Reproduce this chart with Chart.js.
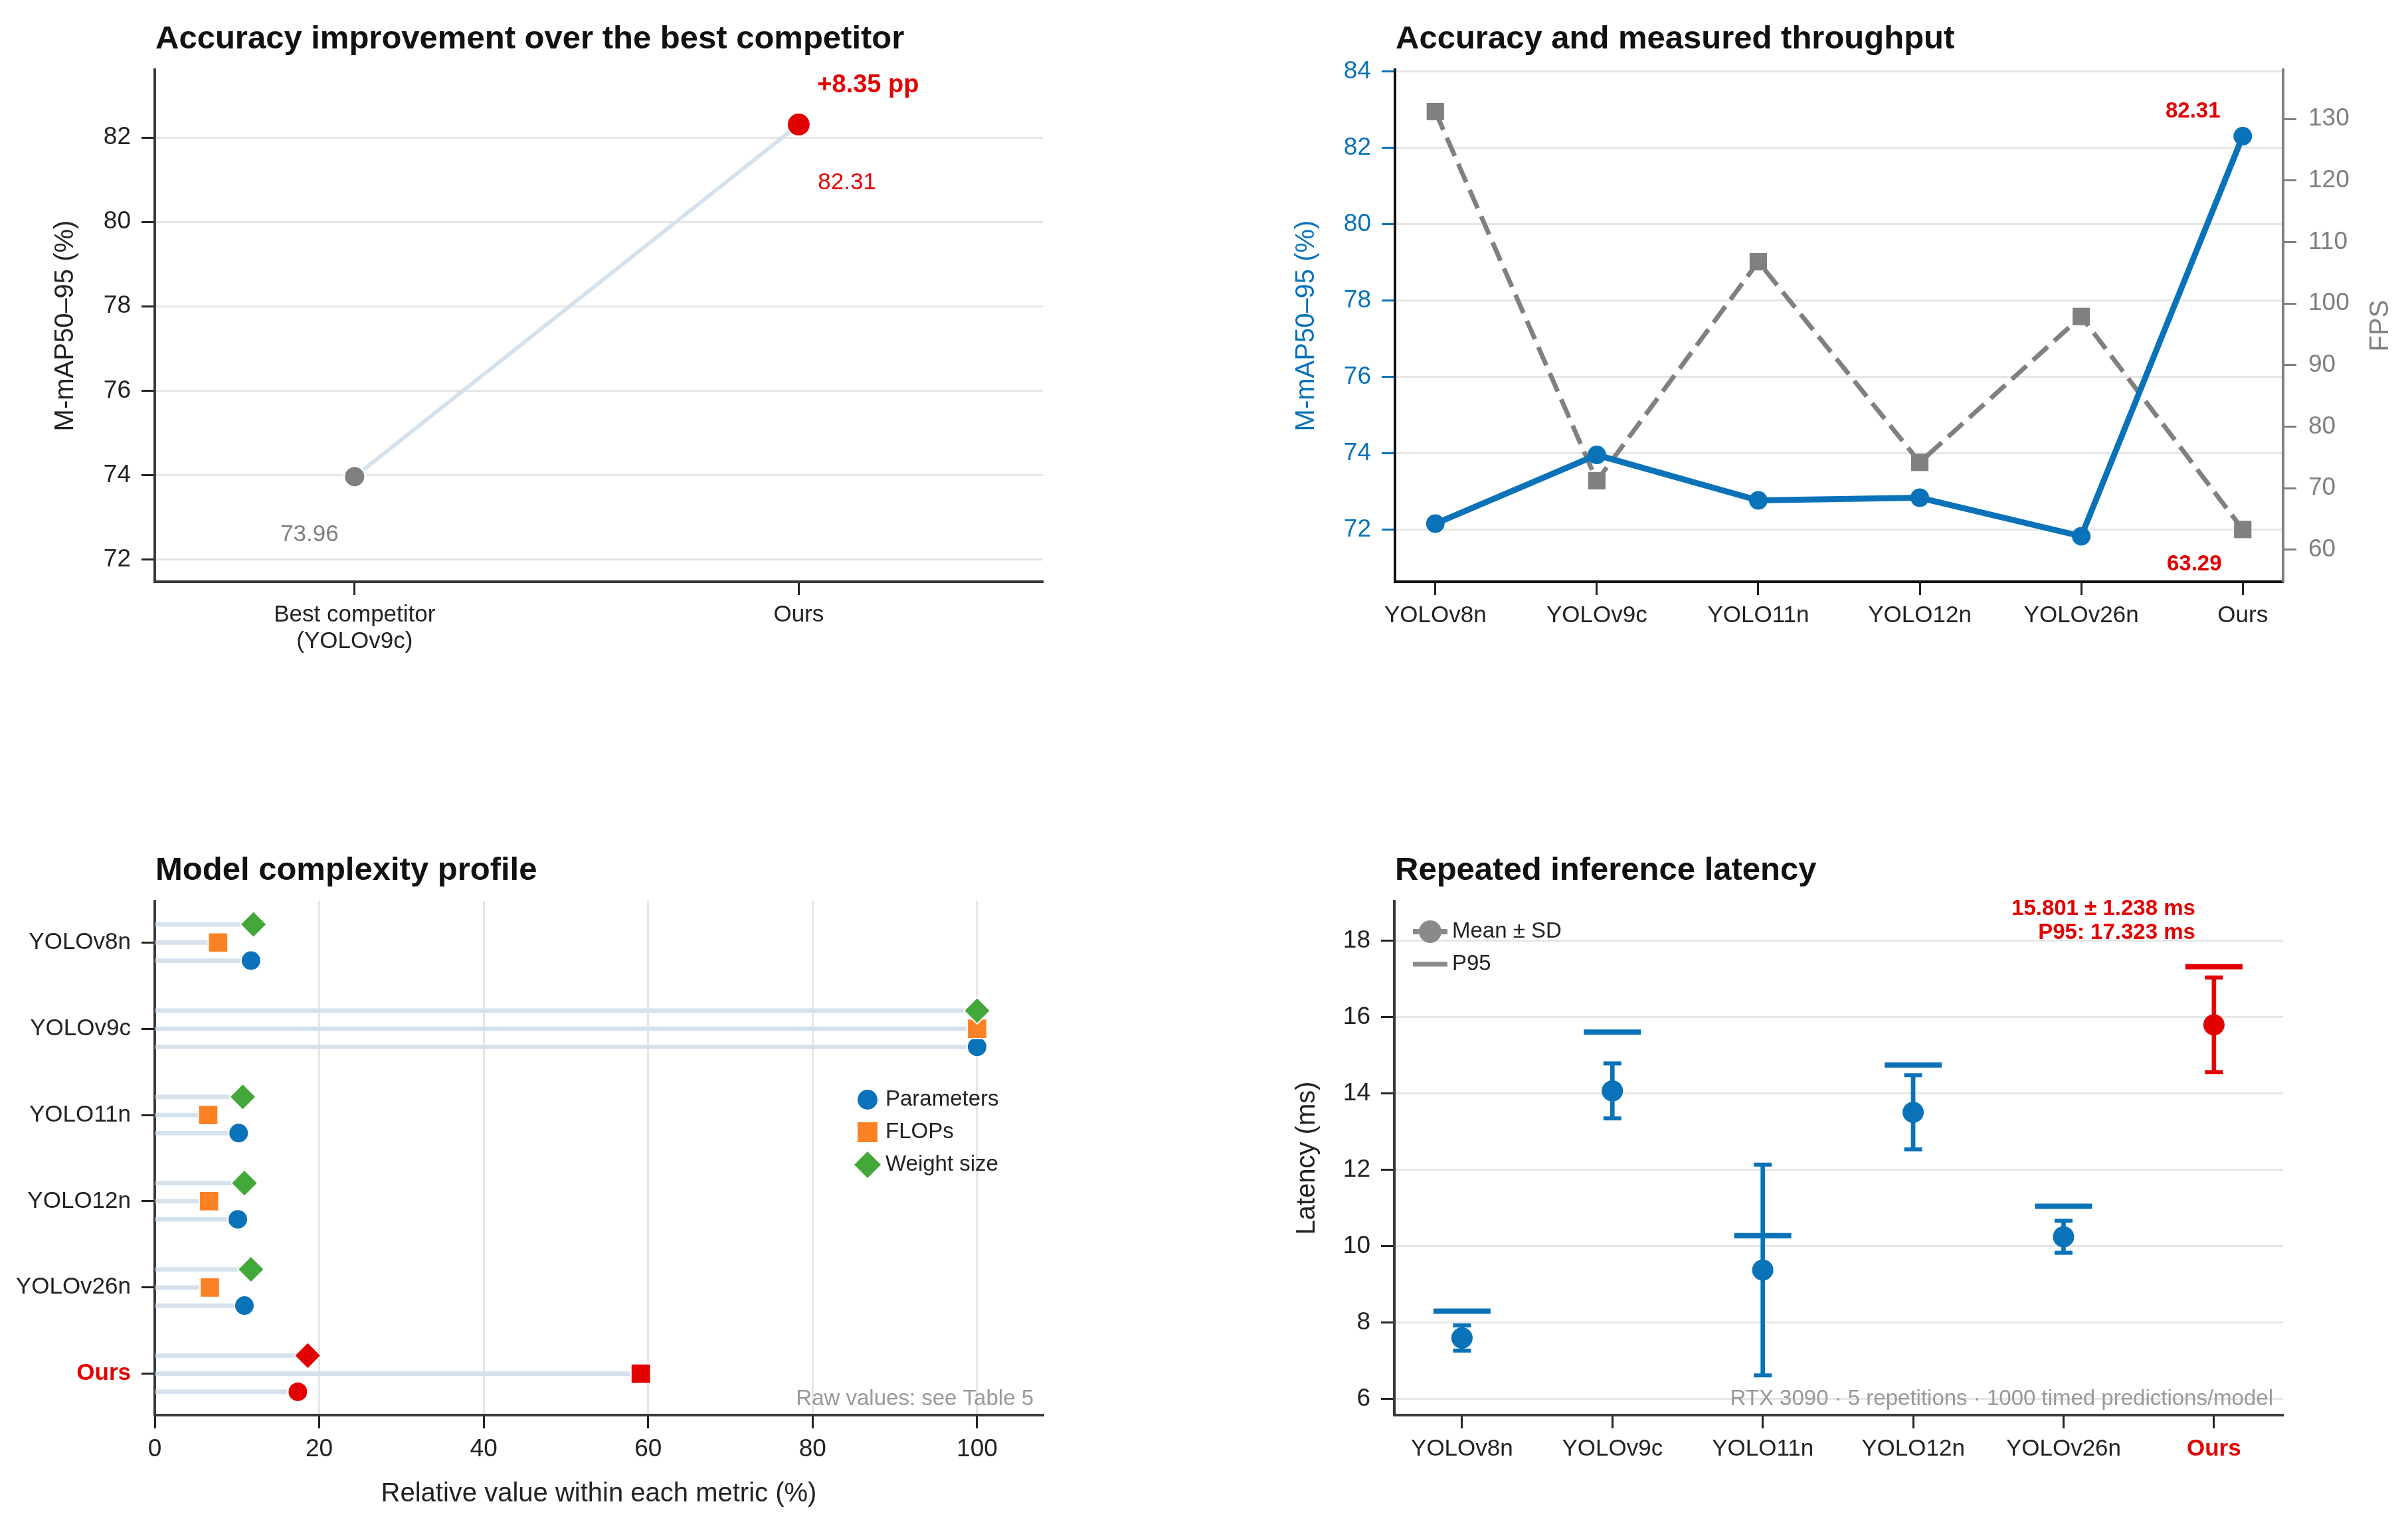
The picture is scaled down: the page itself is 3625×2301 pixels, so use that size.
<!DOCTYPE html>
<html lang="en">
<head>
<meta charset="UTF-8">
<title>Accuracy, throughput, complexity and latency</title>
<script src="https://cdn.jsdelivr.net/npm/chart.js"></script>
<style>
  html, body { margin: 0; padding: 0; background: #ffffff; }
  body { width: 3625px; height: 2301px; position: relative; overflow: hidden; }
  .panel { position: absolute; }
  #p1 { left: 0; top: 0; width: 1812px; height: 1150px; }
  #p2 { left: 1812px; top: 0; width: 1813px; height: 1150px; }
  #p3 { left: 0; top: 1150px; width: 1812px; height: 1151px; }
  #p4 { left: 1812px; top: 1150px; width: 1813px; height: 1151px; }
</style>
</head>
<body>
<div class="panel" id="p1"><canvas id="c1"></canvas></div>
<div class="panel" id="p2"><canvas id="c2"></canvas></div>
<div class="panel" id="p3"><canvas id="c3"></canvas></div>
<div class="panel" id="p4"><canvas id="c4"></canvas></div>

<script>
// ---- data ----
const models = ['YOLOv8n', 'YOLOv9c', 'YOLO11n', 'YOLO12n', 'YOLOv26n', 'Ours'];

// top left: best competitor vs ours
const compareLabels = [['Best competitor', '(YOLOv9c)'], 'Ours'];
const compareMap = [73.96, 82.31];
const accTicks = [72, 74, 76, 78, 80, 82];

// top right: accuracy and FPS
const mapValues = [72.16, 73.96, 72.77, 72.84, 71.83, 82.31];
const fpsValues = [131.2, 71.2, 106.8, 74.2, 97.9, 63.29];
const mapTicks = [72, 74, 76, 78, 80, 82, 84];
const fpsTicks = [60, 70, 80, 90, 100, 110, 120, 130];

// bottom left: relative complexity (%)
const paramsRel = [11.7, 100, 10.2, 10.1, 10.9, 17.4];
const flopsRel = [7.7, 100, 6.5, 6.6, 6.7, 59.1];
const weightRel = [12.0, 100, 10.7, 10.9, 11.7, 18.6];
const relTicks = [0, 20, 40, 60, 80, 100];

// bottom right: latency (ms)
const latMean = [7.60, 14.07, 9.38, 13.51, 10.25, 15.801];
const latSD = [0.33, 0.72, 2.76, 0.97, 0.42, 1.238];
const latP95 = [8.30, 15.61, 10.28, 14.75, 11.05, 17.323];
const latTicks = [6, 8, 10, 12, 14, 16, 18];

// ---- style ----
const INK = '#222222';
const AXIS = '#3a3a3a';
const GRID = '#e6e6e6';
const BLUE = '#0a72b9';
const ORANGE = '#fb8224';
const GREEN = '#43a83a';
const RED = '#e30000';
const GRAY = '#808080';
const STEM = '#d5e2ee';
const FONT = "'Liberation Sans', Arial, Helvetica, sans-serif";

Chart.defaults.font.family = FONT;
Chart.defaults.color = INK;
Chart.defaults.animation = false;
Chart.defaults.events = [];
Chart.defaults.maintainAspectRatio = false;
Chart.defaults.plugins.legend.display = false;
Chart.defaults.plugins.tooltip.enabled = false;

function setTicks(values) {
  return scale => { scale.ticks = values.map(v => ({ value: v })); };
}
function fixWidth(w) { return scale => { scale.width = w; }; }
function fixHeight(h) { return scale => { scale.height = h; }; }
function font(size, weight) { return (weight ? weight + ' ' : '') + size + 'px ' + FONT; }

function drawText(ctx, str, x, y, f, color, align, baseline) {
  ctx.save();
  ctx.font = f;
  ctx.fillStyle = color;
  ctx.textAlign = align || 'left';
  ctx.textBaseline = baseline || 'alphabetic';
  ctx.fillText(str, x, y);
  ctx.restore();
}
function drawTitle(chart, str) {
  const a = chart.chartArea;
  drawText(chart.ctx, str, a.left + 1, a.top - 32, font(49, 'bold'), '#111111');
}

const isOurs = c => c.tick && c.tick.value === 5;
const oursColor = c => isOurs(c) ? RED : INK;
const oursFont = c => isOurs(c) ? { size: 35, weight: 'bold' } : { size: 35 };
const byModel = (base) => c => c.dataIndex === 5 ? RED : base;

// tick marks only, no lines across the plot; offset off so bar datasets keep positions
function ticksOnly(color) {
  return { drawOnChartArea: false, offset: false, tickColor: color || INK, tickWidth: 3, tickLength: 20 };
}

// ---- panel 1 ----
new Chart(document.getElementById('c1'), {
  type: 'line',
  data: {
    datasets: [{
      data: compareMap.map((v, i) => ({ x: i, y: v })),
      borderColor: STEM,
      borderWidth: 6,
      pointRadius: [16, 18],
      pointBackgroundColor: [GRAY, RED],
      pointBorderColor: '#ffffff',
      pointBorderWidth: 3
    }]
  },
  options: {
    devicePixelRatio: 1,
    layout: { padding: { top: 105, right: 242, bottom: 0, left: 0 } },
    scales: {
      x: {
        type: 'linear', min: -0.45, max: 1.55,
        afterBuildTicks: setTicks([0, 1]), afterFit: fixHeight(274),
        border: { color: AXIS, width: 4 },
        grid: ticksOnly(),
        ticks: { callback: v => compareLabels[v], font: { size: 35, lineHeight: 1.15 }, color: INK, padding: 10, maxRotation: 0, autoSkip: false }
      },
      y: {
        type: 'linear', min: 71.47, max: 83.61,
        afterBuildTicks: setTicks(accTicks), afterFit: fixWidth(233),
        border: { color: AXIS, width: 4 },
        grid: { color: GRID, lineWidth: 3, tickColor: INK, tickWidth: 3, tickLength: 20 },
        ticks: { font: { size: 37 }, color: INK, padding: 16 },
        title: { display: true, text: 'M-mAP50–95 (%)', font: { size: 40 }, color: INK, padding: { top: 75, bottom: 0 } }
      }
    }
  },
  plugins: [{
    id: 'p1text',
    afterDatasetsDraw(chart) {
      const ctx = chart.ctx, sx = chart.scales.x, sy = chart.scales.y;
      drawTitle(chart, 'Accuracy improvement over the best competitor');
      const gx = sx.getPixelForValue(0), gy = sy.getPixelForValue(compareMap[0]);
      const rx = sx.getPixelForValue(1), ry = sy.getPixelForValue(compareMap[1]);
      const gain = (compareMap[1] - compareMap[0]).toFixed(2);
      drawText(ctx, '+' + gain + ' pp', rx + 28, ry - 49, font(38, 'bold'), RED);
      drawText(ctx, compareMap[1].toFixed(2), rx + 29, ry + 97, font(35), RED);
      drawText(ctx, compareMap[0].toFixed(2), gx - 68, gy + 97, font(35), GRAY, 'center');
    }
  }]
});

// ---- panel 2 ----
new Chart(document.getElementById('c2'), {
  type: 'line',
  data: {
    datasets: [{
      data: mapValues.map((v, i) => ({ x: i, y: v })),
      yAxisID: 'y',
      order: 0,
      borderColor: BLUE,
      borderWidth: 9,
      pointRadius: 14,
      pointBackgroundColor: BLUE,
      pointBorderWidth: 0
    }, {
      data: fpsValues.map((v, i) => ({ x: i, y: v })),
      yAxisID: 'y1',
      order: 1,
      borderColor: GRAY,
      borderWidth: 7,
      borderDash: [30, 13],
      pointStyle: 'rect',
      pointRadius: 18.5,
      pointBackgroundColor: GRAY,
      pointBorderWidth: 0
    }]
  },
  options: {
    devicePixelRatio: 1,
    layout: { padding: { top: 105, right: 0, bottom: 0, left: 0 } },
    scales: {
      x: {
        type: 'linear', min: -0.25, max: 5.25,
        afterBuildTicks: setTicks([0, 1, 2, 3, 4, 5]), afterFit: fixHeight(274),
        border: { color: '#111111', width: 4 },
        grid: ticksOnly(),
        ticks: { callback: v => models[v], font: { size: 35 }, color: INK, padding: 10, maxRotation: 0, autoSkip: false }
      },
      y: {
        type: 'linear', position: 'left', min: 70.64, max: 84.05,
        afterBuildTicks: setTicks(mapTicks), afterFit: fixWidth(288),
        border: { color: '#111111', width: 4 },
        grid: { color: GRID, lineWidth: 3, tickColor: BLUE, tickWidth: 3, tickLength: 20 },
        ticks: { font: { size: 37 }, color: BLUE, padding: 16 },
        title: { display: true, text: 'M-mAP50–95 (%)', font: { size: 40 }, color: BLUE, padding: { top: 131, bottom: 0 } }
      },
      y1: {
        type: 'linear', position: 'right', min: 54.8, max: 138.0,
        afterBuildTicks: setTicks(fpsTicks), afterFit: fixWidth(188),
        border: { color: GRAY, width: 4 },
        grid: ticksOnly(GRAY),
        ticks: { font: { size: 37 }, color: GRAY, padding: 18 }
      }
    }
  },
  plugins: [{
    id: 'p2text',
    afterDatasetsDraw(chart) {
      const ctx = chart.ctx, a = chart.chartArea;
      const sx = chart.scales.x, sy = chart.scales.y, sf = chart.scales.y1;
      drawTitle(chart, 'Accuracy and measured throughput');
      const ox = sx.getPixelForValue(5);
      drawText(ctx, mapValues[5].toFixed(2), ox - 75, sy.getPixelForValue(mapValues[5]) - 28, font(33, 'bold'), RED, 'center');
      drawText(ctx, fpsValues[5].toFixed(2), ox - 73, sf.getPixelForValue(fpsValues[5]) + 62, font(33, 'bold'), RED, 'center');
      ctx.save();
      ctx.translate(a.right + 147, (a.top + a.bottom) / 2);
      ctx.rotate(-Math.PI / 2);
      drawText(ctx, 'FPS', 0, 0, font(40), GRAY, 'center', 'middle');
      ctx.restore();
    }
  }]
});

// ---- panel 3 ----
const OFF = 0.21;
const stems = [];
models.forEach((m, i) => {
  stems.push({ x: weightRel[i], y: i - OFF });
  stems.push({ x: flopsRel[i], y: i });
  stems.push({ x: paramsRel[i], y: i + OFF });
});

new Chart(document.getElementById('c3'), {
  type: 'scatter',
  data: {
    datasets: [{
      type: 'bar',
      indexAxis: 'y',
      grouped: false,
      data: stems,
      barThickness: 6,
      backgroundColor: STEM,
      borderWidth: 0,
      order: 3
    }, {
      label: 'Weight size',
      data: weightRel.map((v, i) => ({ x: v, y: i - OFF })),
      pointStyle: 'rectRot',
      pointRadius: 20,
      pointBackgroundColor: byModel(GREEN),
      pointBorderColor: '#ffffff',
      pointBorderWidth: 2,
      order: 0
    }, {
      label: 'FLOPs',
      data: flopsRel.map((v, i) => ({ x: v, y: i })),
      pointStyle: 'rect',
      pointRadius: 21,
      pointBackgroundColor: byModel(ORANGE),
      pointBorderColor: '#ffffff',
      pointBorderWidth: 2,
      order: 1
    }, {
      label: 'Parameters',
      data: paramsRel.map((v, i) => ({ x: v, y: i + OFF })),
      pointStyle: 'circle',
      pointRadius: 15,
      pointBackgroundColor: byModel(BLUE),
      pointBorderColor: '#ffffff',
      pointBorderWidth: 2,
      order: 2
    }]
  },
  options: {
    devicePixelRatio: 1,
    layout: { padding: { top: 207, right: 242, bottom: 0, left: 0 } },
    scales: {
      x: {
        type: 'linear', min: 0, max: 108, offset: false, beginAtZero: false,
        afterBuildTicks: setTicks(relTicks), afterFit: fixHeight(170),
        border: { color: AXIS, width: 4 },
        grid: { color: GRID, lineWidth: 3, offset: false, tickColor: INK, tickWidth: 3, tickLength: 20 },
        ticks: { font: { size: 37 }, color: INK, padding: 10, maxRotation: 0 },
        title: { display: true, text: 'Relative value within each metric (%)', font: { size: 40 }, color: INK, padding: { top: 0, bottom: 27 } }
      },
      y: {
        type: 'linear', reverse: true, min: -0.48, max: 5.48, offset: false,
        afterBuildTicks: setTicks([0, 1, 2, 3, 4, 5]), afterFit: fixWidth(233),
        border: { color: AXIS, width: 4 },
        grid: ticksOnly(),
        ticks: { callback: v => models[v], font: oursFont, color: oursColor, padding: 16, autoSkip: false }
      }
    }
  },
  plugins: [{
    id: 'p3text',
    afterDatasetsDraw(chart) {
      const ctx = chart.ctx, a = chart.chartArea;
      drawTitle(chart, 'Model complexity profile');
      const lx = a.left + 1073, ly = a.top + 299, step = 49;
      ctx.save();
      ctx.fillStyle = BLUE;
      ctx.beginPath(); ctx.arc(lx, ly, 15, 0, Math.PI * 2); ctx.fill();
      ctx.fillStyle = ORANGE;
      ctx.fillRect(lx - 15, ly + step - 15, 30, 30);
      ctx.fillStyle = GREEN;
      ctx.beginPath();
      ctx.moveTo(lx - 20, ly + 2 * step); ctx.lineTo(lx, ly + 2 * step - 20);
      ctx.lineTo(lx + 20, ly + 2 * step); ctx.lineTo(lx, ly + 2 * step + 20);
      ctx.closePath(); ctx.fill();
      ctx.restore();
      ['Parameters', 'FLOPs', 'Weight size'].forEach((t, k) => {
        drawText(ctx, t, lx + 27, ly + k * step, font(33), INK, 'left', 'middle');
      });
      drawText(ctx, 'Raw values: see Table 5', a.right - 14, a.bottom - 15, font(33), '#999999', 'right');
    }
  }]
});

// ---- panel 4 ----
new Chart(document.getElementById('c4'), {
  type: 'scatter',
  data: {
    datasets: [{
      label: 'P95',
      data: latP95.map((v, i) => ({ x: i, y: v })),
      pointStyle: 'line',
      pointRadius: 43,
      pointBorderWidth: 8,
      pointBorderColor: byModel(BLUE),
      order: 4
    }, {
      type: 'bar',
      grouped: false,
      data: latMean.map((v, i) => ({ x: i, y: [v - latSD[i], v + latSD[i]] })),
      barThickness: 6,
      backgroundColor: byModel(BLUE),
      borderWidth: 0,
      order: 3
    }, {
      data: latMean.map((v, i) => ({ x: i, y: v - latSD[i] })),
      pointStyle: 'line',
      pointRadius: 13.5,
      pointBorderWidth: 6,
      pointBorderColor: byModel(BLUE),
      order: 2
    }, {
      data: latMean.map((v, i) => ({ x: i, y: v + latSD[i] })),
      pointStyle: 'line',
      pointRadius: 13.5,
      pointBorderWidth: 6,
      pointBorderColor: byModel(BLUE),
      order: 1
    }, {
      label: 'Mean ± SD',
      data: latMean.map((v, i) => ({ x: i, y: v })),
      pointStyle: 'circle',
      pointRadius: 16,
      pointBackgroundColor: byModel(BLUE),
      pointBorderWidth: 0,
      order: 0
    }]
  },
  options: {
    devicePixelRatio: 1,
    layout: { padding: { top: 207, right: 188, bottom: 0, left: 0 } },
    scales: {
      x: {
        type: 'linear', min: -0.45, max: 5.46, offset: false,
        afterBuildTicks: setTicks([0, 1, 2, 3, 4, 5]), afterFit: fixHeight(170),
        border: { color: AXIS, width: 4 },
        grid: ticksOnly(),
        ticks: { callback: v => models[v], font: oursFont, color: oursColor, padding: 10, maxRotation: 0, autoSkip: false }
      },
      y: {
        type: 'linear', min: 5.58, max: 19.04, offset: false, beginAtZero: false,
        afterBuildTicks: setTicks(latTicks), afterFit: fixWidth(287),
        border: { color: AXIS, width: 4 },
        grid: { color: GRID, lineWidth: 3, offset: false, tickColor: INK, tickWidth: 3, tickLength: 20 },
        ticks: { font: { size: 37 }, color: INK, padding: 16 },
        title: { display: true, text: 'Latency (ms)', font: { size: 40 }, color: INK, padding: { top: 132, bottom: 0 } }
      }
    }
  },
  plugins: [{
    id: 'p4text',
    afterDatasetsDraw(chart) {
      const ctx = chart.ctx, a = chart.chartArea;
      const sx = chart.scales.x, sy = chart.scales.y;
      drawTitle(chart, 'Repeated inference latency');
      // legend
      const lx = a.left + 28, y1 = a.top + 46, y2 = a.top + 95;
      const LG = '#8a8a8a';
      ctx.save();
      ctx.strokeStyle = LG;
      ctx.lineWidth = 8;
      ctx.beginPath(); ctx.moveTo(lx, y1); ctx.lineTo(lx + 52, y1); ctx.stroke();
      ctx.lineWidth = 7;
      ctx.beginPath(); ctx.moveTo(lx, y2); ctx.lineTo(lx + 52, y2); ctx.stroke();
      ctx.fillStyle = LG;
      ctx.beginPath(); ctx.arc(lx + 26, y1, 17, 0, Math.PI * 2); ctx.fill();
      ctx.restore();
      drawText(ctx, 'Mean ± SD', lx + 59, y1, font(33), INK, 'left', 'middle');
      drawText(ctx, 'P95', lx + 59, y2, font(33), INK, 'left', 'middle');
      // note for ours
      const ox = sx.getPixelForValue(5), py = sy.getPixelForValue(latP95[5]);
      drawText(ctx, latMean[5].toFixed(3) + ' ± ' + latSD[5].toFixed(3) + ' ms', ox - 28, py - 78, font(33, 'bold'), RED, 'right');
      drawText(ctx, 'P95: ' + latP95[5].toFixed(3) + ' ms', ox - 28, py - 42, font(33, 'bold'), RED, 'right');
      drawText(ctx, 'RTX 3090 · 5 repetitions · 1000 timed predictions/model', a.right - 15, a.bottom - 15, font(33), '#999999', 'right');
    }
  }]
});
</script>
</body>
</html>
